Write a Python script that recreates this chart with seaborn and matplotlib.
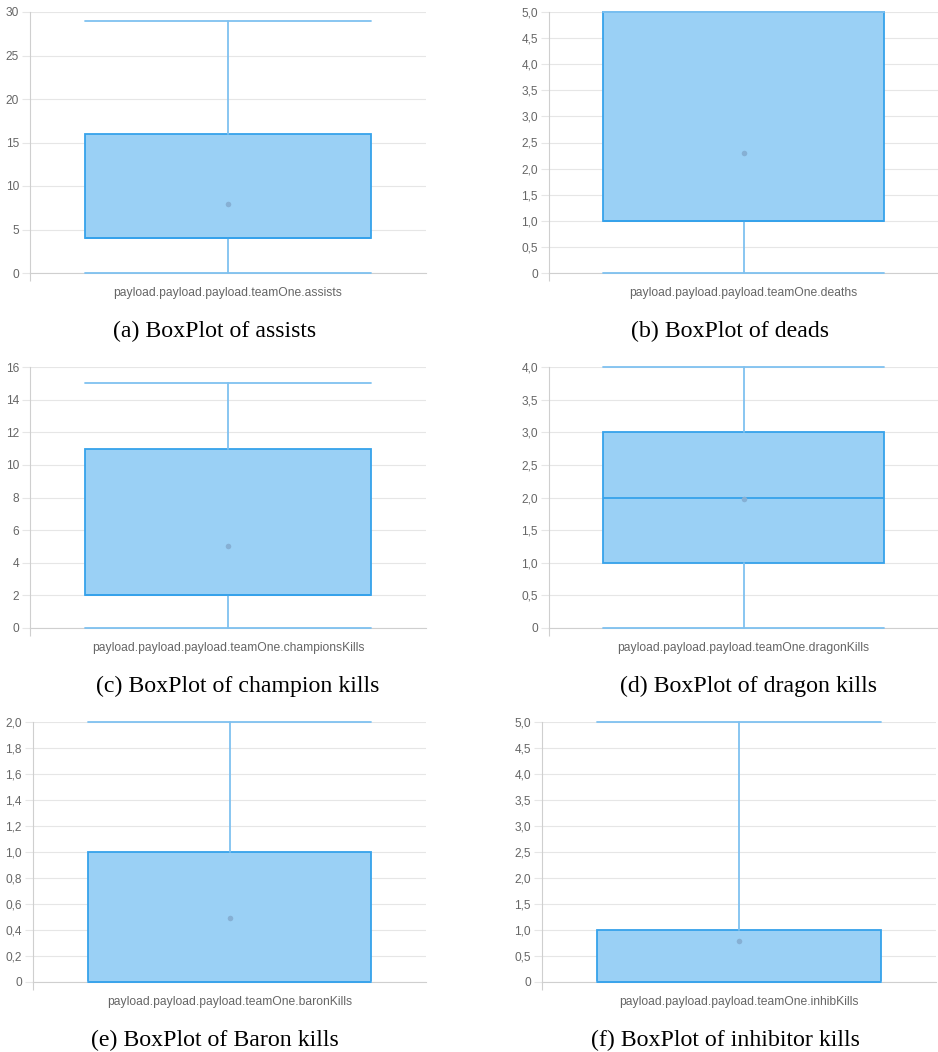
import matplotlib
matplotlib.use('Agg')
import matplotlib.pyplot as plt
import seaborn as sns
import numpy as np

sns.set_theme(style='whitegrid')
plt.rcParams['font.family'] = ['Liberation Sans', 'DejaVu Sans']

# box statistics
fields = ['assists', 'deaths', 'championsKills', 'dragonKills', 'baronKills', 'inhibKills']
captions = ['(a) BoxPlot of assists', '(b) BoxPlot of deads', '(c) BoxPlot of champion kills',
            '(d) BoxPlot of dragon kills', '(e) BoxPlot of Baron kills', '(f) BoxPlot of inhibitor kills']
whis_low = [0, 0, 0, 0, 0, 0]
q1 = [4, 1, 2, 1, 0, 0]
median = [4, 1, 2, 2, 0, 0]
q3 = [16, 5, 11, 3, 1, 1]
whis_high = [29, 5, 15, 4, 2, 5]
means = [7.95, 2.3, 5.05, 1.97, 0.49, 0.78]
y_max = [30, 5, 16, 4, 2, 5]
y_step = [5, 0.5, 2, 0.5, 0.2, 0.5]

# panel frames in pixels: left, top, right, bottom
frames = [(30, 12, 426, 273), (549, 12, 938, 273),
          (30, 367, 426, 628), (549, 367, 938, 628),
          (33, 722, 426, 982), (542, 722, 936, 982)]
caption_x = [215, 730, 238, 748, 215, 725]
caption_y = [331, 331, 686, 686, 1040, 1040]

W, H = 938, 1052
fig = plt.figure(figsize=(W / 100, H / 100), dpi=100)

edge = '#36A2EB'
fill = '#9AD0F5'
whisk = '#7fc1f0'
grid_c = '#e6e6e6'
axis_c = '#cfcfcf'
text_c = '#666666'

def fmt(v, step):
    if abs(v) < 1e-9:
        return '0'
    if step < 1:
        return f'{v:.1f}'.replace('.', ',')
    return f'{int(round(v))}'

for i in range(6):
    l, t, r, b = frames[i]
    ax = fig.add_axes([l / W, 1 - b / H, (r - l) / W, (b - t) / H])
    stats = [{
        'whislo': whis_low[i], 'q1': q1[i], 'med': median[i],
        'q3': q3[i], 'whishi': whis_high[i], 'mean': means[i], 'fliers': [],
    }]
    art = ax.bxp(stats, positions=[0], widths=0.72, capwidths=0.72, showmeans=True,
                 patch_artist=True, showfliers=False,
                 boxprops=dict(facecolor=fill, edgecolor=edge, linewidth=1.3),
                 medianprops=dict(color=edge, linewidth=1.3),
                 whiskerprops=dict(color=whisk, linewidth=1.3),
                 capprops=dict(color=whisk, linewidth=1.3),
                 meanprops=dict(marker='o', markersize=4, markerfacecolor='#86b0d4',
                                markeredgecolor='none'))
    for k in ['boxes', 'medians', 'whiskers', 'caps', 'means']:
        for a in art[k]:
            a.set_clip_on(False)
            a.set_zorder(3)

    ax.set_xlim(-0.5, 0.5)
    ax.set_ylim(0, y_max[i])
    ticks = np.arange(0, y_max[i] + y_step[i] / 2, y_step[i])
    ax.set_yticks(ticks)
    ax.set_yticklabels([fmt(v, y_step[i]) for v in ticks])
    ax.set_xticks([0])
    ax.set_xticklabels([f'payload.payload.payload.teamOne.{fields[i]}'])
    ax.set_xticks([-0.5], minor=True)

    ax.set_facecolor('white')
    ax.grid(True, axis='y', color=grid_c, linewidth=0.8)
    ax.grid(False, axis='x')
    ax.set_axisbelow(True)
    for s in ['top', 'right']:
        ax.spines[s].set_visible(False)
    for s in ['left', 'bottom']:
        ax.spines[s].set_visible(True)
        ax.spines[s].set_color(axis_c)
        ax.spines[s].set_linewidth(0.8)
    ax.tick_params(axis='y', which='major', length=6, width=0.8, color=grid_c,
                   pad=2, labelsize=8.6, labelcolor=text_c, left=True)
    ax.tick_params(axis='x', which='major', length=0, pad=10, labelsize=8.7,
                   labelcolor=text_c)
    ax.tick_params(axis='x', which='minor', length=6, width=0.8, color=axis_c,
                   bottom=True, direction='out')

    fig.text(caption_x[i] / W, 1 - caption_y[i] / H, captions[i], ha='center', va='center',
             fontsize=17.2, family=['Liberation Serif', 'DejaVu Serif'], color='black')

fig.savefig('out.png', dpi=100, facecolor='white')
